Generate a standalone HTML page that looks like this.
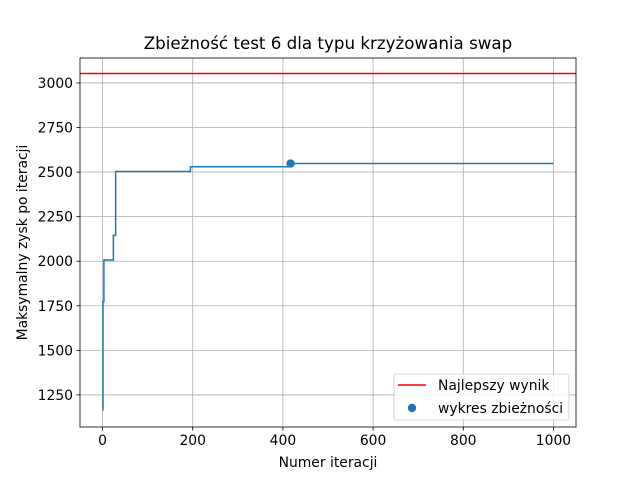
<!DOCTYPE html>
<html><head><meta charset="utf-8"><style>
body{margin:0;background:#fff;font-family:"Liberation Sans","DejaVu Sans",sans-serif;}
svg text{font-family:"DejaVu Sans","Liberation Sans",sans-serif;}
</style></head><body>
<svg id="c" width="640" height="480" xmlns="http://www.w3.org/2000/svg"></svg>
<script>
const iterations=[0,1,3,24,29,195,417,1000];
const values=[1166,1773,2007,2145,2503,2530,2548,2548];
const bestValue=3053;
const dotIter=417, dotValue=2548;
const xTicks=[0,200,400,600,800,1000];
const yTicks=[1250,1500,1750,2000,2250,2500,2750,3000];
const L=80,R=576,T=58,B=427;
const xMin=-50,xMax=1050,yMin=1070,yMax=3140;
const sx=v=>L+(v-xMin)/(xMax-xMin)*(R-L);
const sy=v=>B-(v-yMin)/(yMax-yMin)*(B-T);
const svg=document.getElementById('c');
const NS='http://www.w3.org/2000/svg';
function mk(t,a,txt){const e=document.createElementNS(NS,t);for(const k in a)e.setAttribute(k,a[k]);if(txt!==undefined)e.textContent=txt;svg.appendChild(e);return e;}
let e;
e=mk('rect',{x:L,y:T,width:R-L,height:B-T,fill:'#fff'});


xTicks.forEach(v=>{const x=sx(v);
e=mk('line',{x1:x,x2:x,y1:T,y2:B,stroke:'#b0b0b0','stroke-width':0.8});


mk('line',{x1:x,x2:x,y1:B,y2:B+3.5,stroke:'#000','stroke-width':0.8});
e=mk('text',{x:x,y:B+18,'font-size':13.9,'text-anchor':'middle'},String(v));

});
yTicks.forEach(v=>{const y=sy(v);
e=mk('line',{x1:L,x2:R,y1:y,y2:y,stroke:'#b0b0b0','stroke-width':0.8});


mk('line',{x1:L-3.5,x2:L,y1:y,y2:y,stroke:'#000','stroke-width':0.8});
e=mk('text',{x:L-7,y:y+5,'font-size':13.9,'text-anchor':'end'},String(v));

});
e=mk('line',{x1:L,x2:R,y1:sy(bestValue),y2:sy(bestValue),stroke:'#ff0000','stroke-width':1.5});


let d='';
iterations.forEach((it,i)=>{const x=sx(it),y=sy(values[i]);
if(i===0)d+='M'+x+','+y;else d+=' H'+x+' V'+y;});
d+=' H'+sx(iterations[iterations.length-1]);
e=mk('path',{d:d,fill:'none',stroke:'#1f77b4','stroke-width':1.5});


e=mk('circle',{cx:sx(dotIter),cy:sy(dotValue),r:4.2,fill:'#1f77b4'});


e=mk('rect',{x:L,y:T,width:R-L,height:B-T,fill:'none',stroke:'#000','stroke-width':0.8});


e=mk('text',{x:(L+R)/2,y:49,'font-size':16.7,'text-anchor':'middle'},'Zbieżność test 6 dla typu krzyżowania swap');


e=mk('text',{x:(L+R)/2,y:467,'font-size':13.9,'text-anchor':'middle'},'Numer iteracji');


e=mk('text',{x:27,y:(T+B)/2,'font-size':13.9,'text-anchor':'middle',transform:'rotate(-90 27 '+((T+B)/2)+')'},'Maksymalny zysk po iteracji');


e=mk('rect',{x:394,y:374,width:175,height:46,rx:2,fill:'#fff','fill-opacity':0.8,stroke:'#ccc','stroke-width':0.8});


mk('line',{x1:398,x2:426,y1:385,y2:385,stroke:'#ff0000','stroke-width':1.5});
e=mk('text',{x:438,y:390,'font-size':13.9},'Najlepszy wynik');


mk('circle',{cx:412,cy:408,r:4.2,fill:'#1f77b4'});
e=mk('text',{x:438,y:413,'font-size':13.9},'wykres zbieżności');


</script>
</body></html>
